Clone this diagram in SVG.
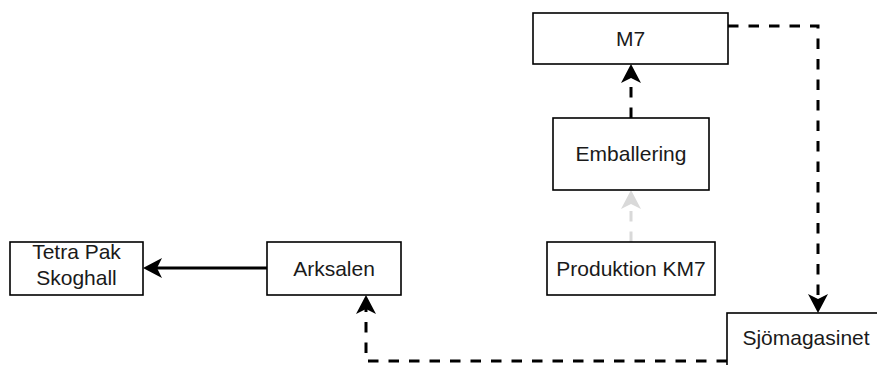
<svg xmlns="http://www.w3.org/2000/svg" width="877" height="365" viewBox="0 0 877 365">
  <style>
    .box { fill: #ffffff; stroke: #000000; stroke-width: 1.6; }
    .label { font-family: "Liberation Sans", Arial, sans-serif; font-size: 21px; fill: #1a1a1a; text-anchor: middle; }
    .edge { fill: none; stroke: #000000; stroke-width: 3; }
    .dashed { stroke-dasharray: 10.5 10; }
    .faint { stroke: #d9d9d9; }
  </style>
  <defs>
    <marker id="arrow" markerUnits="userSpaceOnUse" markerWidth="24" markerHeight="24" refX="5" refY="0" orient="auto" overflow="visible">
      <path d="M19,0 L0,-10 L5,0 L0,10 Z" fill="#000000"/>
    </marker>
    <marker id="arrowFaint" markerUnits="userSpaceOnUse" markerWidth="24" markerHeight="24" refX="5" refY="0" orient="auto" overflow="visible">
      <path d="M19,0 L0,-10 L5,0 L0,10 Z" fill="#d9d9d9"/>
    </marker>
  </defs>

  <g id="connectors">
    <path class="edge dashed" d="M728,26 H818 V299" marker-end="url(#arrow)"/>
    <path class="edge dashed" d="M727,361 H366 V309" marker-end="url(#arrow)"/>
    <path class="edge" d="M267,268 H157" marker-end="url(#arrow)"/>
    <path class="edge dashed" d="M631,118 V78" marker-end="url(#arrow)"/>
    <path class="edge dashed faint" d="M631,242 V204" marker-end="url(#arrowFaint)"/>
  </g>

  <g id="m7">
    <rect class="box" x="533" y="13" width="195" height="51"/>
    <text class="label" x="630.5" y="46">M7</text>
  </g>
  <g id="emballering">
    <rect class="box" x="553" y="118" width="156" height="72"/>
    <text class="label" x="631" y="161">Emballering</text>
  </g>
  <g id="produktion-km7">
    <rect class="box" x="547" y="242" width="168" height="53"/>
    <text class="label" x="631" y="276">Produktion KM7</text>
  </g>
  <g id="arksalen">
    <rect class="box" x="267" y="242" width="134" height="53"/>
    <text class="label" x="334" y="276">Arksalen</text>
  </g>
  <g id="tetra-pak-skoghall">
    <rect class="box" x="10" y="242" width="133" height="53"/>
    <text class="label" x="76.5" y="259">Tetra Pak</text>
    <text class="label" x="76.5" y="285">Skoghall</text>
  </g>
  <g id="sjomagasinet">
    <rect class="box" x="727" y="313" width="170" height="70"/>
    <text class="label" x="806" y="345">Sjömagasinet</text>
  </g>
</svg>
